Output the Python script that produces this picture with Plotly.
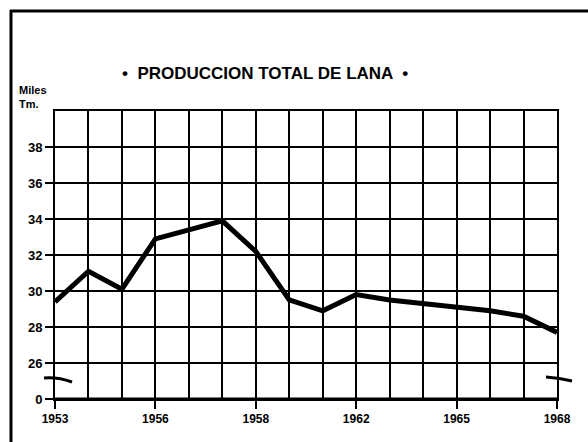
import plotly.graph_objects as go

years = list(range(1953, 1969))
production = [29.4, 31.1, 30.1, 32.9, 33.4, 33.9, 32.2, 29.5, 28.9, 29.8,
              29.5, 29.3, 29.1, 28.9, 28.6, 27.7]

x_tickvals = [1953, 1956, 1959, 1962, 1965, 1968]
x_ticktext = ["1953", "1956", "1958", "1962", "1965", "1968"]
y_tickvals = [24, 26, 28, 30, 32, 34, 36, 38]
y_ticktext = ["0", "26", "28", "30", "32", "34", "36", "38"]

W, H = 588, 442
def px(x):
    return x / W
def py(y):
    return 1 - y / H

fig = go.Figure()
fig.add_trace(go.Scatter(x=years, y=production, mode="lines",
                         line=dict(color="black", width=5), hoverinfo="skip",
                         showlegend=False))

font_b = "Liberation Sans"
fig.update_layout(
    width=W, height=H,
    margin=dict(l=0, r=0, t=0, b=0, autoexpand=False),
    paper_bgcolor="white", plot_bgcolor="white",
    xaxis=dict(domain=[px(55), px(557)], range=[1953, 1968], automargin=False,
               tickvals=x_tickvals, ticktext=x_ticktext,
               ticks="outside", ticklen=8, tickwidth=1.5, tickcolor="black",
               showgrid=True, gridcolor="black", gridwidth=1.5,
               minor=dict(dtick=1, tick0=1953, showgrid=True, gridcolor="black", gridwidth=1.5),
               showline=True, linecolor="black", linewidth=2, mirror=True,
               zeroline=False,
               tickfont=dict(family=font_b, size=12, color="black", weight="bold")),
    yaxis=dict(domain=[1 - 399 / H, 1 - 111 / H], range=[24, 40], automargin=False,
               tickvals=y_tickvals, ticktext=y_ticktext,
               ticks="outside", ticklen=8, tickwidth=1.5, tickcolor="black",
               showgrid=True, gridcolor="black", gridwidth=1.5,
               showline=True, linecolor="black", linewidth=2, mirror=True,
               zeroline=False,
               tickfont=dict(family=font_b, size=13, color="black", weight="bold")),
    annotations=[
        dict(text="•  PRODUCCION TOTAL DE LANA  •", x=px(265), y=py(62),
             xref="paper", yref="paper", showarrow=False,
             font=dict(family=font_b, size=17, color="black", weight="bold")),
        dict(text="Miles<br>Tm.", x=px(17), y=py(82), xref="paper", yref="paper",
             xanchor="left", yanchor="top", align="left", showarrow=False,
             font=dict(family=font_b, size=11, color="black", weight="bold")),
    ],
    shapes=[
        dict(type="line", xref="paper", yref="paper", x0=px(11), x1=px(11),
             y0=py(10), y1=0, line=dict(color="black", width=3)),
        dict(type="line", xref="paper", yref="paper", x0=px(10), x1=1,
             y0=py(11), y1=py(11), line=dict(color="black", width=3)),
        dict(type="line", xref="paper", yref="paper", x0=px(55), x1=px(557),
             y0=py(399), y1=py(399), line=dict(color="black", width=3)),
        dict(type="path", xref="paper", yref="paper",
             path=f"M {px(44)},{py(378)} Q {px(58)},{py(377)} {px(72)},{py(382)}",
             line=dict(color="black", width=3)),
        dict(type="path", xref="paper", yref="paper",
             path=f"M {px(546)},{py(377)} Q {px(560)},{py(378)} {px(572)},{py(381)}",
             line=dict(color="black", width=3)),
    ],
)
fig.write_html("out.html", config={"displayModeBar": False},
               post_script="document.body.style.margin='0';")
